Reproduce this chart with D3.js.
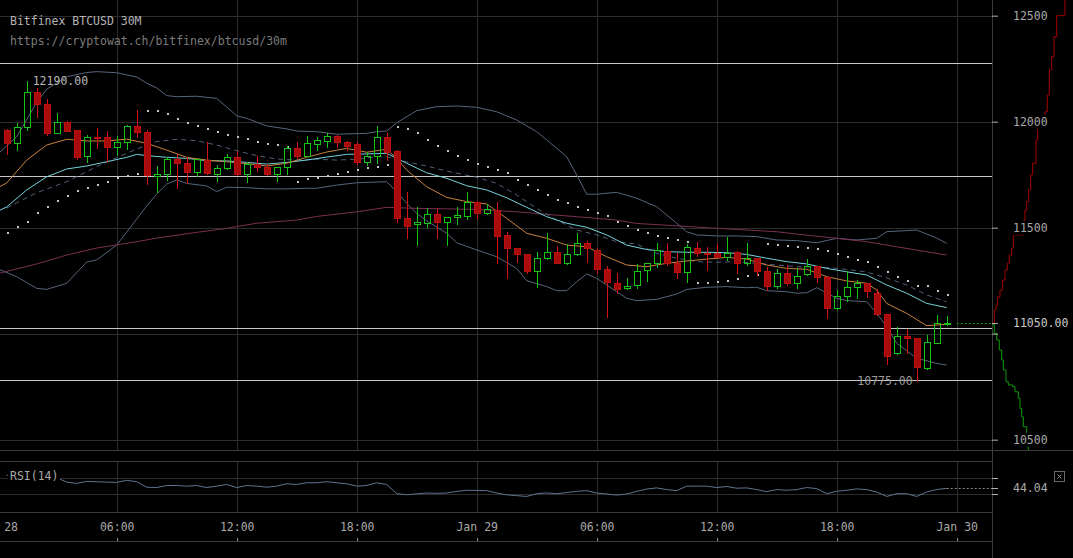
<!DOCTYPE html>
<html>
<head>
<meta charset="utf-8">
<script src="https://cdnjs.cloudflare.com/ajax/libs/d3/7.8.5/d3.min.js"></script>
<style>
  body { margin: 0; background: #000; overflow: hidden; }
  svg text { font-family: "DejaVu Sans Mono", monospace; font-size: 11.5px; }
</style>
</head>
<body>
<script>
// Candle series (Bitfinex BTCUSD, 30 minute candles)
var firstCandle = new Date(2018, 0, 28, 0, 30);
var candleMinutes = 30;

var opens = [11961,11898,11976,12141,12082,11948,12000,11961,11838,11929,11929,11882,11906,11980,11953,11745,11752,11824,11804,11764,
  11819,11752,11780,11835,11752,11799,11788,11752,11785,11875,11840,11893,11910,11934,11903,11895,11811,11838,11929,11862,
  11544,11516,11521,11563,11528,11549,11557,11623,11568,11583,11466,11403,11374,11297,11356,11387,11335,11374,11426,11395,
  11304,11238,11214,11230,11300,11332,11390,11335,11290,11403,11382,11382,11363,11387,11332,11356,11296,11226,11285,11240,
  11280,11319,11269,11123,11179,11219,11238,11190,11091,10907,10989,10978,10840,10957,11044];
var highs = [11966,11992,12190,12157,12106,12040,12003,11961,11937,11972,11956,11933,11984,12055,11961,11791,11835,11848,11832,11826,
  11903,11796,11846,11863,11811,11840,11799,11787,11885,11906,11934,11926,11945,11936,11910,11906,11858,11980,11945,11866,
  11667,11596,11591,11591,11551,11599,11670,11628,11610,11623,11481,11405,11376,11387,11474,11415,11423,11474,11439,11403,
  11319,11285,11261,11327,11334,11426,11429,11379,11423,11434,11410,11422,11455,11389,11426,11358,11316,11305,11324,11308,
  11351,11321,11271,11206,11297,11253,11240,11209,11093,11033,11021,10980,10994,11088,11083];
var lows = [11848,11866,11961,12024,11937,11945,11955,11823,11808,11875,11816,11843,11870,11929,11706,11667,11725,11686,11712,11744,
  11755,11720,11778,11748,11714,11767,11750,11720,11752,11827,11838,11866,11882,11882,11866,11800,11796,11807,11819,11528,
  11450,11418,11505,11450,11418,11517,11540,11544,11566,11332,11261,11337,11285,11219,11354,11333,11329,11372,11337,11285,
  11080,11193,11212,11214,11249,11316,11324,11261,11242,11366,11300,11360,11348,11285,11324,11277,11206,11217,11230,11217,
  11278,11245,11073,11116,11156,11167,11172,11088,10857,10905,10907,10775,10832,10955,11042];
var closes = [11898,11976,12141,12082,11948,12000,11958,11835,11929,11925,11882,11906,11980,11953,11749,11752,11824,11804,11764,11824,
  11757,11780,11835,11752,11799,11785,11752,11785,11875,11840,11898,11912,11934,11906,11887,11811,11838,11926,11858,11544,
  11509,11528,11563,11525,11549,11560,11623,11568,11587,11462,11403,11374,11297,11356,11387,11335,11374,11426,11403,11304,
  11242,11209,11226,11297,11332,11395,11335,11290,11408,11382,11377,11363,11382,11332,11356,11297,11226,11285,11240,11274,
  11319,11269,11123,11179,11222,11238,11203,11091,10896,10989,10978,10841,10959,11049,11050];

// Indicator lines, [candle index, price]
var emaFast = [[-1,11686],[0,11711],[2,11819],[4,11890],[6,11917],[8,11909],[10,11909],[12,11918],[14,11898],[16,11866],[18,11832],
  [20,11819],[22,11811],[24,11802],[26,11791],[28,11804],[30,11832],[32,11857],[34,11874],[36,11856],[38,11870],[39,11827],[40,11772],
  [42,11693],[44,11643],[46,11623],[48,11612],[50,11544],[52,11474],[54,11450],[56,11418],[58,11410],[60,11363],[62,11324],[64,11316],
  [66,11332],[68,11343],[70,11352],[72,11360],[74,11352],[76,11324],[78,11308],[80,11304],[82,11269],[84,11249],[86,11238],[87,11206],
  [88,11143],[90,11096],[92,11038],[94,11044]];
var emaSlow = [[-1,11575],[0,11598],[2,11678],[4,11740],[6,11777],[8,11791],[10,11811],[12,11832],[13,11846],[14,11840],[16,11832],
  [18,11827],[20,11816],[22,11815],[24,11808],[26,11800],[28,11808],[30,11819],[32,11833],[34,11846],[36,11848],[38,11851],[39,11827],
  [40,11804],[42,11759],[44,11733],[46,11698],[48,11678],[50,11641],[52,11596],[54,11552],[56,11521],[58,11502],[60,11466],[62,11418],
  [64,11397],[66,11387],[68,11384],[70,11384],[72,11382],[74,11374],[76,11356],[78,11340],[80,11329],[82,11308],[84,11292],[86,11277],
  [88,11230],[90,11191],[92,11143],[94,11123]];
var smaDashed = [[0,11593],[3,11665],[6,11717],[9,11788],[12,11851],[14,11890],[15,11906],[17,11917],[19,11910],[21,11890],[23,11863],
  [25,11840],[27,11824],[29,11819],[31,11823],[33,11819],[35,11823],[37,11835],[38,11835],[40,11810],[42,11791],[44,11767],[47,11738],
  [49,11709],[51,11654],[53,11591],[55,11536],[57,11489],[59,11466],[61,11434],[63,11423],[65,11379],[67,11356],[69,11340],[71,11337],
  [73,11340],[75,11332],[77,11324],[79,11316],[82,11313],[84,11303],[86,11291],[88,11263],[90,11230],[92,11183],[94,11150]];
var smaLong = [[-1,11282],[3,11329],[6,11371],[9,11404],[13,11434],[15,11451],[19,11478],[22,11497],[25,11521],[29,11536],[31,11553],
  [35,11575],[38,11596],[41,11591],[45,11588],[47,11586],[51,11575],[54,11563],[57,11552],[61,11536],[63,11520],[67,11509],[70,11500],
  [73,11492],[77,11481],[79,11470],[83,11450],[86,11434],[89,11410],[94,11371]];
var bbUpper = [[-1,11843],[1,11929],[3,12091],[4,12153],[6,12212],[8,12232],[9,12236],[11,12231],[13,12211],[14,12182],[15,12159],
  [16,12123],[17,12118],[19,12120],[21,12110],[23,12028],[24,12016],[26,11980],[28,11966],[29,11956],[31,11953],[33,11941],[36,11945],
  [37,11953],[38,11956],[39,11995],[41,12052],[43,12071],[45,12074],[47,12068],[49,12047],[51,12008],[53,11953],[54,11914],[56,11835],
  [57,11749],[58,11658],[59,11658],[61,11667],[63,11639],[65,11599],[67,11521],[68,11481],[69,11466],[71,11461],[73,11461],[75,11458],
  [77,11442],[79,11439],[81,11429],[83,11450],[85,11442],[87,11450],[88,11481],[91,11489],[93,11451],[94,11426]];
var bbLower = [[-1,11308],[1,11269],[3,11214],[4,11209],[6,11238],[8,11338],[9,11348],[11,11418],[13,11541],[14,11602],[15,11659],
  [16,11706],[17,11725],[18,11709],[20,11697],[21,11670],[22,11691],[24,11689],[26,11683],[28,11683],[30,11686],[31,11686],[33,11701],
  [35,11712],[38,11717],[39,11670],[40,11615],[41,11568],[42,11532],[44,11474],[45,11429],[47,11395],[49,11363],[51,11308],[52,11250],
  [54,11222],[55,11203],[56,11203],[57,11245],[58,11282],[59,11261],[61,11198],[62,11167],[63,11156],[65,11162],[67,11187],[68,11209],
  [70,11219],[72,11222],[74,11217],[75,11219],[76,11203],[78,11198],[79,11191],[80,11193],[81,11217],[83,11167],[84,11156],[86,11151],
  [87,11096],[88,11033],[89,10955],[91,10884],[93,10860],[94,10852]];

// Parabolic SAR, one value per candle
var sar = [11474,11505,11528,11568,11599,11627,11650,11673,11689,11701,11717,11733,11745,11753,
  12052,12052,12035,12014,11995,11980,11966,11953,11937,11929,11918,11906,11895,11890,11879,
  11717,11728,11736,11745,11753,11764,11772,11783,11788,11796,
  11976,11966,11945,11914,11887,11862,11840,11819,11800,11788,11772,11757,11725,11701,11678,11654,11631,11618,11599,11583,
  11568,11555,11528,11508,11489,11476,11461,11451,11442,11434,
  11240,11240,11245,11250,11259,11272,11277,
  11423,11418,11414,11410,11406,11399,11391,11376,11363,11348,11337,11316,11292,11269,11250,11225,11225,11203,11182];

// RSI(14), one value per candle
var rsi = [78,79,82,78,70,71.8,60,56.7,62,61,60.2,59.3,64.7,61.1,46.9,46,51.3,51.3,49.6,51.3,
  46,49.6,54,46,51.3,49.6,46.9,49.6,55.8,54,58.4,58.4,61.1,58.4,55.8,49.6,51.3,58.4,54,30,
  27.3,29.5,31.8,31,31.8,36,38.9,38.5,38,31.8,27,25,22.9,30,32,30,33,36.2,38,31.8,
  29.1,26.4,29.1,36.2,42,45.1,40.7,38,49.6,49.6,49.6,46,48.7,44.2,45.1,40.7,35.3,40.7,38.9,40.7,
  46,43.3,30,36.2,38.9,42.4,40.7,34.4,22.9,30,30,22.9,34.4,40.7,44.04];

// Order book depth (cumulative volume)
var askPrices = [11050,11112,11135,11173,11206,11253,11300,11333,11371,11404,11466,11536,11583,11623,11678,11749,11804,11914,11970,12047,12126,12244,12307,12401,12500,12503,12574];
var askVolumes = [0,23,40,57,80,107,130,153,173,197,213,320,330,347,367,387,407,440,457,530,553,573,597,620,647,713,730];
var bidPrices = [11045,11002,10970,10923,10876,10829,10773,10758,10750,10726,10695,10648,10608,10561,10467,10451];
var bidVolumes = [0,23,47,73,97,113,140,163,207,230,263,280,297,313,347,363];

// Horizontal levels drawn on the chart, axis ticks
var levelLines = [12275, 11745, 11025, 10780];
var priceTicks = [10500, 11000, 11500, 12000, 12500];
var rsiLevels = [70, 30];
var lastPrice = 11050;
var lastRsi = 44.04;
var highLabel = {index: 2, price: 12190};
var lowLabel = {index: 91, price: 10775};

var svgWidth = 1073;
var svgHeight = 558;
var axisX = 992;
var mainBottom = 450;
var gridColor = "#2c2c2c";
var lineColor = "#3a3a3a";

var svg = d3.select("body")
  .append("svg")
  .attr("width", svgWidth)
  .attr("height", svgHeight)
  .style("background", "#000");

// scales
var x = d3.scaleTime()
  .domain([new Date(2018, 0, 28, 0, 0), new Date(2018, 0, 30, 0, 0)])
  .range([-3.3, 956.7]);
var y = d3.scaleLinear().domain([10500, 12500]).range([439.7, 15.7]);
var yRsi = d3.scaleLinear().domain([30, 70]).range([493.7, 478.3]);
var depthX = d3.scaleLinear().domain([0, 810]).range([axisX, axisX + 81]);

function cx(i) {
  return x(new Date(firstCandle.getTime() + i * candleMinutes * 60000));
}
function px(v) { return Math.round(v) + 0.5; }

var timeTicks = d3.timeHour.every(6).range(new Date(2018, 0, 28, 0, 0), new Date(2018, 0, 30, 0, 1));

svg.append("defs").append("clipPath").attr("id", "plot")
  .append("rect").attr("x", 0).attr("y", 0).attr("width", axisX).attr("height", mainBottom);
svg.append("defs").append("clipPath").attr("id", "depth")
  .append("rect").attr("x", axisX).attr("y", 0).attr("width", 81).attr("height", mainBottom);

// grid
var grid = svg.append("g");
grid.selectAll(".hgrid").data(priceTicks).enter().append("line")
  .attr("x1", 0).attr("x2", axisX)
  .attr("y1", d => px(y(d))).attr("y2", d => px(y(d)))
  .attr("stroke", gridColor);
grid.selectAll(".vgrid").data(timeTicks).enter().append("line")
  .attr("x1", d => px(x(d))).attr("x2", d => px(x(d)))
  .attr("y1", 0).attr("y2", mainBottom)
  .attr("stroke", gridColor);
grid.selectAll(".vgrid2").data(timeTicks).enter().append("line")
  .attr("x1", d => px(x(d))).attr("x2", d => px(x(d)))
  .attr("y1", 461).attr("y2", 512)
  .attr("stroke", gridColor);
grid.selectAll(".rgrid").data(rsiLevels).enter().append("line")
  .attr("x1", 0).attr("x2", axisX)
  .attr("y1", d => px(yRsi(d))).attr("y2", d => px(yRsi(d)))
  .attr("stroke", gridColor);

// panel borders
[[0, svgWidth, 450.5], [0, axisX, 461.5], [0, axisX, 512.5], [0, axisX, 541.5]].forEach(function(b) {
  svg.append("line").attr("x1", b[0]).attr("x2", b[1]).attr("y1", b[2]).attr("y2", b[2]).attr("stroke", lineColor);
});
svg.append("line").attr("x1", axisX + 0.5).attr("x2", axisX + 0.5).attr("y1", 0).attr("y2", svgHeight).attr("stroke", lineColor);

var plot = svg.append("g").attr("clip-path", "url(#plot)");

// level lines
plot.selectAll(".level").data(levelLines).enter().append("line")
  .attr("x1", 0).attr("x2", axisX)
  .attr("y1", d => px(y(d))).attr("y2", d => px(y(d)))
  .attr("stroke", "#c8c8c8");

// indicators
var priceLine = d3.line().x(d => cx(d[0])).y(d => y(d[1]));
function drawLine(data, color, dash) {
  plot.append("path").datum(data)
    .attr("d", priceLine)
    .attr("fill", "none")
    .attr("stroke", color)
    .attr("stroke-width", 1)
    .attr("stroke-dasharray", dash || null);
}
drawLine(bbUpper, "#56657c");
drawLine(bbLower, "#56657c");
drawLine(smaLong, "#7a2f52");
drawLine(smaDashed, "#4f6078", "5,4");
drawLine(emaSlow, "#74d3dc");
drawLine(emaFast, "#c9833e");

// parabolic sar
plot.selectAll(".sar").data(sar).enter().append("rect")
  .attr("x", (d, i) => Math.round(cx(i)))
  .attr("y", d => Math.round(y(d)) - 1)
  .attr("width", 2).attr("height", 2)
  .attr("fill", "#c4c4c4");

// candles
var candles = plot.selectAll(".candle").data(opens).enter().append("g");
candles.each(function(o, i) {
  var g = d3.select(this);
  var up = closes[i] >= o;
  var wick = up ? "#16c416" : "#d61212";
  var xm = px(cx(i));
  var top = Math.round(y(Math.max(o, closes[i])));
  var bot = Math.round(y(Math.min(o, closes[i])));
  if (bot - top < 1) bot = top + 1;
  g.append("line").attr("x1", xm).attr("x2", xm)
    .attr("y1", Math.round(y(highs[i]))).attr("y2", top).attr("stroke", wick);
  g.append("line").attr("x1", xm).attr("x2", xm)
    .attr("y1", bot + 1).attr("y2", Math.round(y(lows[i])) + 1).attr("stroke", wick);
  g.append("rect")
    .attr("x", Math.round(cx(i)) - 3 + 0.5)
    .attr("y", top + 0.5)
    .attr("width", 6)
    .attr("height", bot - top)
    .attr("fill", up ? "none" : "#a80b0b")
    .attr("stroke", up ? "#16c416" : "#bc0f0f");
});

// last price marker
svg.append("line")
  .attr("x1", cx(95)).attr("x2", axisX)
  .attr("y1", px(y(lastPrice))).attr("y2", px(y(lastPrice)))
  .attr("stroke", "#0a9a0a").attr("stroke-dasharray", "2,2");

// high / low labels
svg.append("text").attr("x", cx(highLabel.index) + 6).attr("y", y(highLabel.price) + 4)
  .attr("fill", "#b8b8b8").text(highLabel.price.toFixed(2));
svg.append("text").attr("x", cx(lowLabel.index) - 4).attr("y", y(lowLabel.price) + 4)
  .attr("text-anchor", "end").attr("fill", "#9a9a9a").text(lowLabel.price.toFixed(2));

// depth chart
var depth = svg.append("g").attr("clip-path", "url(#depth)");
depth.append("path").datum(d3.zip(askVolumes, askPrices))
  .attr("d", d3.line().x(d => depthX(d[0])).y(d => y(d[1])).curve(d3.curveStepAfter))
  .attr("fill", "none").attr("stroke", "#a30000");
depth.append("path").datum(d3.zip(bidVolumes, bidPrices))
  .attr("d", d3.line().x(d => depthX(d[0])).y(d => y(d[1])).curve(d3.curveStepAfter))
  .attr("fill", "none").attr("stroke", "#0b9a0b");

// price axis
var yAxis = d3.axisRight(y).tickValues(priceTicks).tickSize(6).tickPadding(15).tickFormat(d3.format("d"));
var yAxisG = svg.append("g").attr("transform", "translate(" + axisX + ",0)").call(yAxis);
yAxisG.select(".domain").remove();
yAxisG.selectAll(".tick line").attr("stroke", "#b0b0b0");
yAxisG.selectAll(".tick").filter(d => d === 11000).select("text").remove();
yAxisG.selectAll(".tick text").attr("fill", "#a8a8a8").each(function() {
  var bb = this.getBBox();
  d3.select(this.parentNode).insert("rect", "text")
    .attr("x", bb.x - 2).attr("y", bb.y).attr("width", bb.width + 4).attr("height", bb.height)
    .attr("fill", "#000");
});

// current price tag
svg.append("line").attr("x1", axisX).attr("x2", axisX + 6)
  .attr("y1", px(y(lastPrice))).attr("y2", px(y(lastPrice))).attr("stroke", "#b0b0b0");
svg.append("rect").attr("x", axisX + 19).attr("y", y(lastPrice) - 7).attr("width", 58).attr("height", 14).attr("fill", "#000");
svg.append("text").attr("x", axisX + 21).attr("y", y(lastPrice) + 4)
  .attr("fill", "#c8c8c8").text(lastPrice.toFixed(2));

// rsi panel
var rsiLine = d3.line().x((d, i) => cx(i)).y(d => yRsi(d));
svg.append("path").datum(rsi)
  .attr("d", rsiLine).attr("fill", "none").attr("stroke", "#5f7491");
svg.append("line")
  .attr("x1", cx(94)).attr("x2", axisX)
  .attr("y1", px(yRsi(lastRsi))).attr("y2", px(yRsi(lastRsi)))
  .attr("stroke", "#8a8a8a").attr("stroke-dasharray", "2,2");
svg.append("rect").attr("x", 8).attr("y", 469).attr("width", 52).attr("height", 16).attr("fill", "#000");
svg.append("text").attr("x", 10).attr("y", 480).attr("fill", "#a8a8a8").text("RSI(14)");

rsiLevels.concat([lastRsi]).forEach(function(v) {
  svg.append("line").attr("x1", axisX).attr("x2", axisX + 6)
    .attr("y1", px(yRsi(v))).attr("y2", px(yRsi(v))).attr("stroke", "#b0b0b0");
});
svg.append("text").attr("x", axisX + 21).attr("y", yRsi(lastRsi) + 4)
  .attr("fill", "#a8a8a8").text(lastRsi.toFixed(2));

// close box of the rsi panel
svg.append("rect").attr("x", 1054.5).attr("y", 471.5).attr("width", 10).attr("height", 10)
  .attr("fill", "none").attr("stroke", "#6a6a6a");
svg.append("path").attr("d", "M1057.5,474.5L1061.5,478.5M1061.5,474.5L1057.5,478.5")
  .attr("stroke", "#8a8a8a");

// time axis
var xAxis = d3.axisBottom(x)
  .tickValues(timeTicks)
  .tickSize(0)
  .tickPadding(0)
  .tickFormat(function(d) {
    return d.getHours() === 0 ? d3.timeFormat("%b %d")(d) : d3.timeFormat("%H:%M")(d);
  });
var xAxisG = svg.append("g").attr("transform", "translate(0,523)").call(xAxis);
xAxisG.select(".domain").remove();
xAxisG.selectAll(".tick text").attr("fill", "#a8a8a8");
svg.selectAll(".tmark").data(timeTicks).enter().append("line")
  .attr("x1", d => px(x(d))).attr("x2", d => px(x(d)))
  .attr("y1", 538).attr("y2", 541)
  .attr("stroke", "#909090");

// title
svg.append("text").attr("x", 10).attr("y", 25).attr("fill", "#b4b4b4").text("Bitfinex BTCUSD 30M");
svg.append("text").attr("x", 10).attr("y", 45).attr("fill", "#7c7c7c").text("https://cryptowat.ch/bitfinex/btcusd/30m");
</script>
</body>
</html>
